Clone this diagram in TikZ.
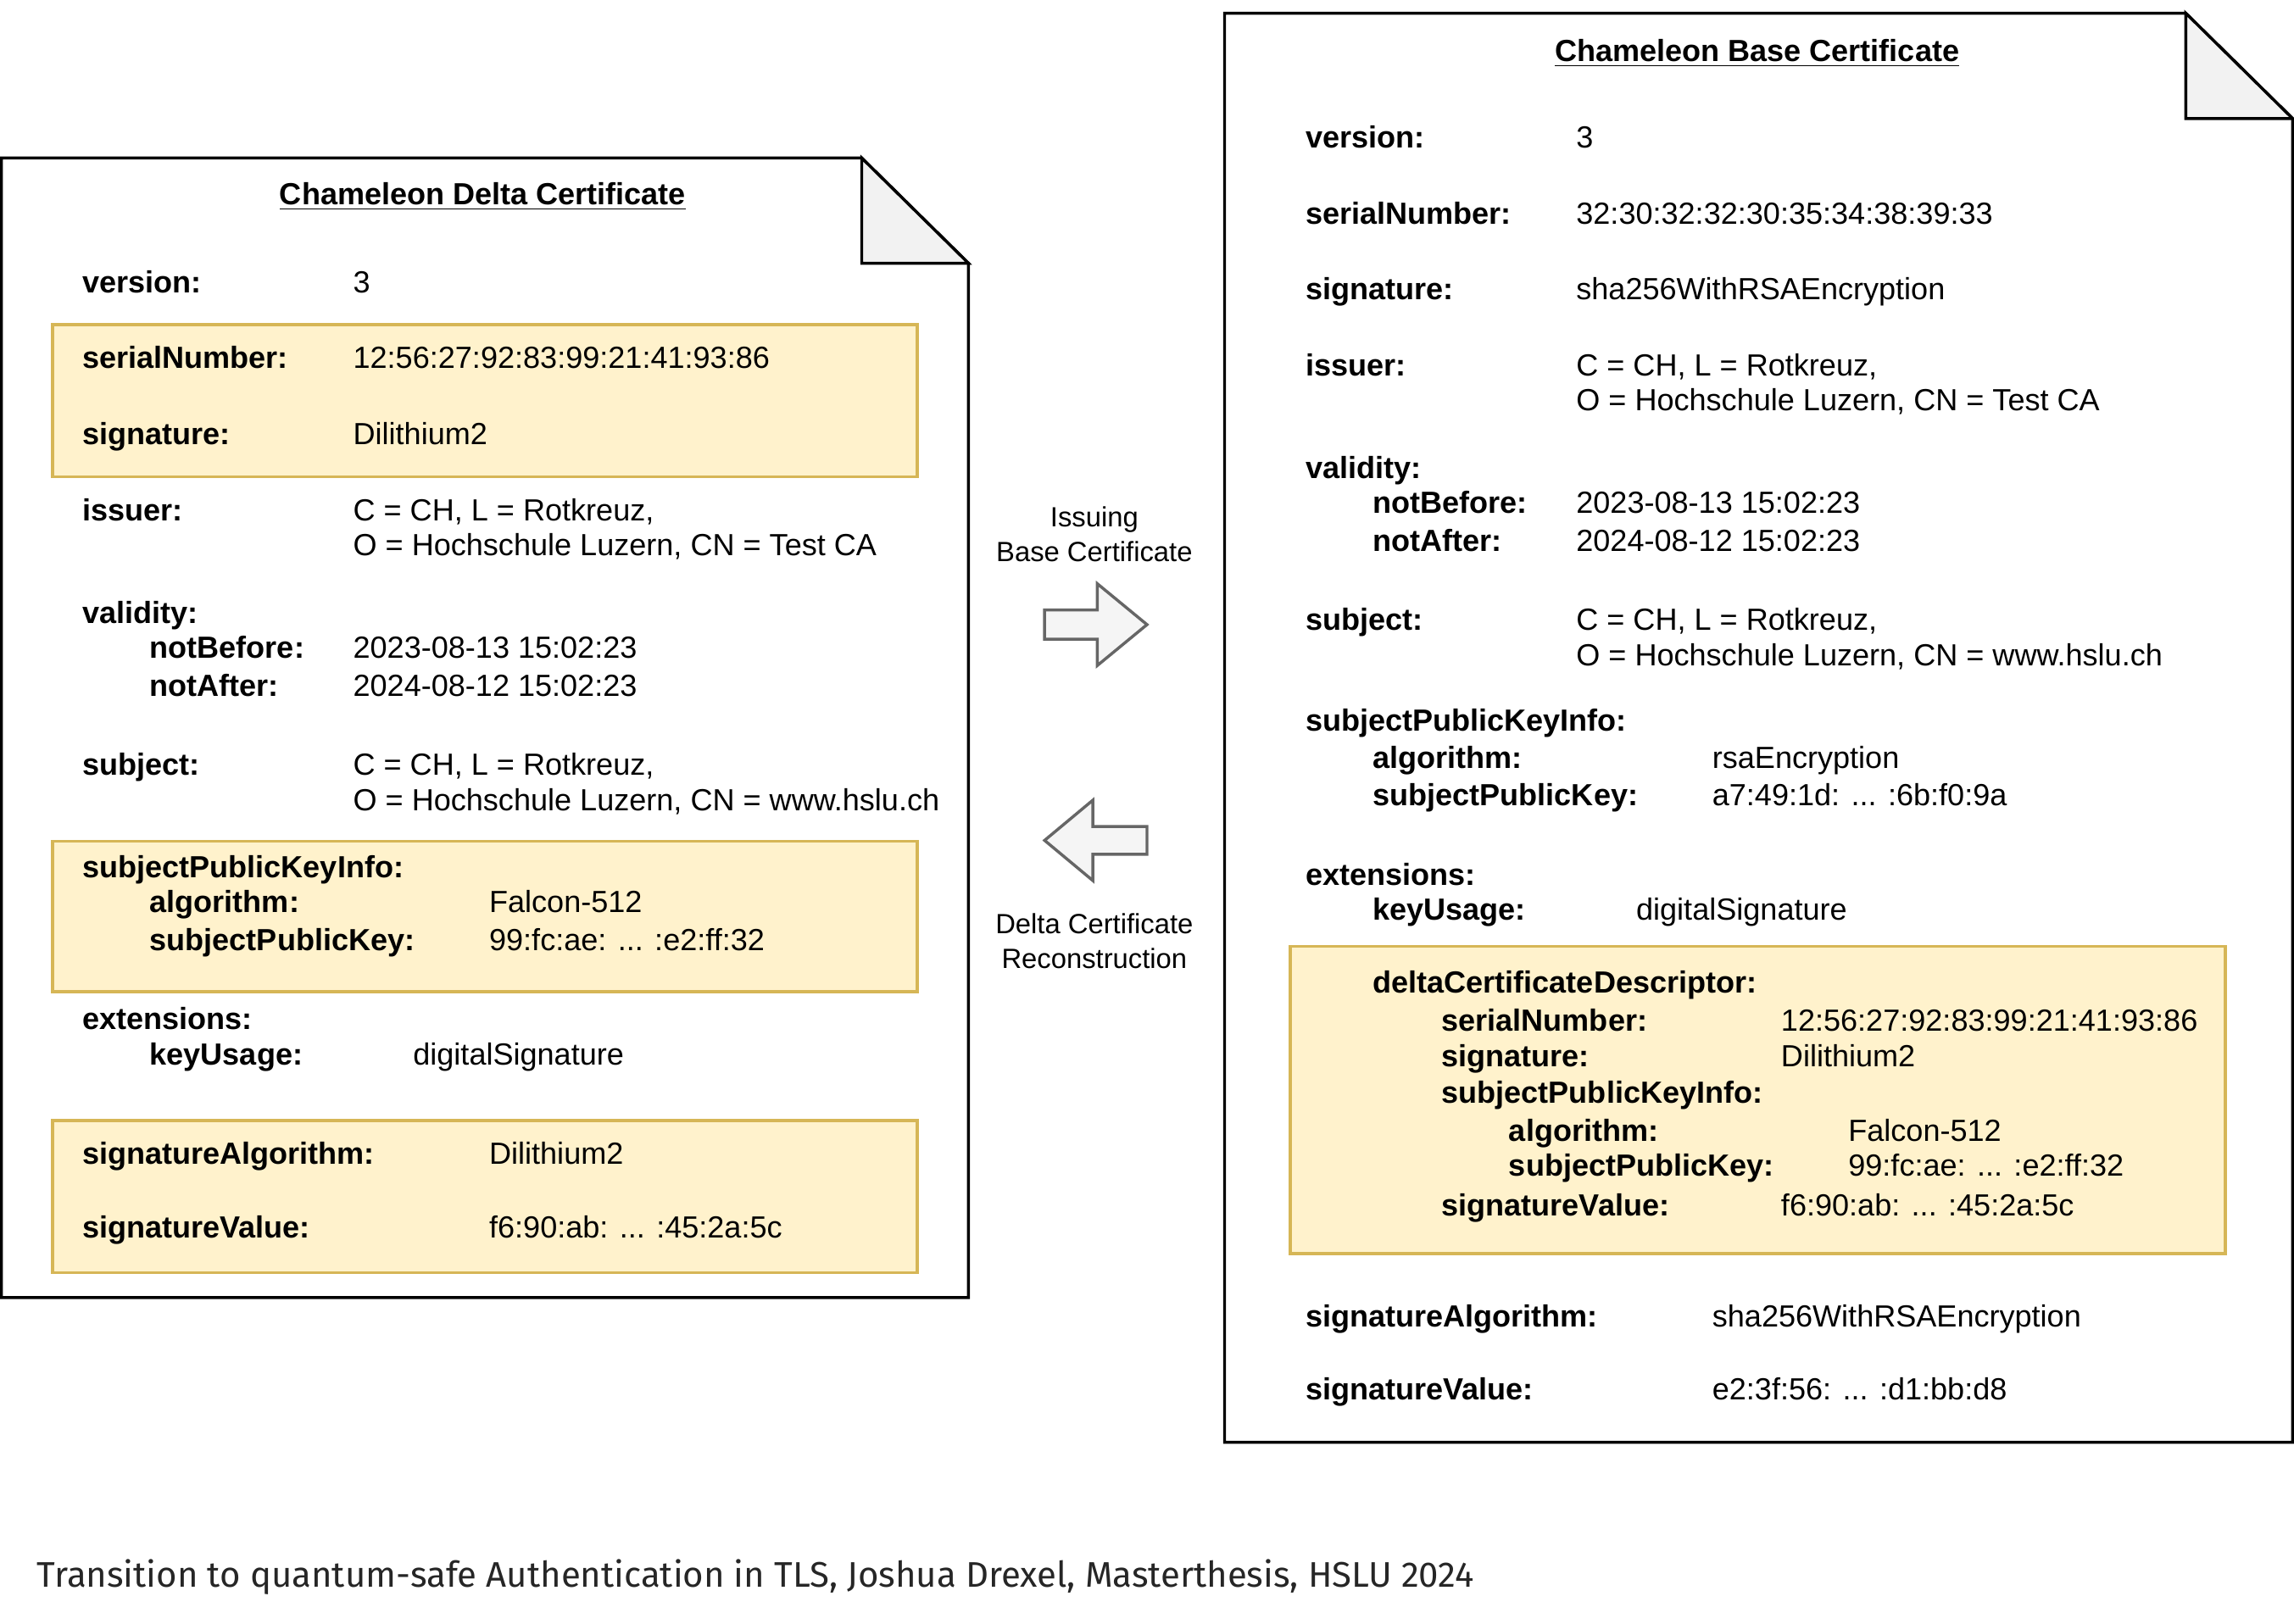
\documentclass[tikz,border=0pt]{standalone}
\usepackage{fontspec}
\setmainfont{Liberation Sans}
\newfontfamily\captionfont{Fira Sans}
\usetikzlibrary{positioning}
\definecolor{hlfill}{HTML}{FFF2CC}
\definecolor{hldraw}{HTML}{D6B656}
\definecolor{foldfill}{HTML}{F2F2F2}
\definecolor{arrowdraw}{HTML}{666666}
\definecolor{arrowfill}{HTML}{F5F5F5}
\newcommand{\certsize}{\fontsize{10.45pt}{12pt}\selectfont}
\tikzset{
    key/.style = {anchor=base west, inner sep=0pt, font=\certsize\bfseries},
    val/.style = {anchor=base west, inner sep=0pt, font=\certsize},
    doctitle/.style = {anchor=base, inner sep=0pt, font=\certsize\bfseries},
    steplabel/.style = {anchor=base, inner sep=0pt, font=\fontsize{9.5pt}{12pt}\selectfont},
    hlbox/.style = {draw=hldraw, fill=hlfill, line width=1pt},
    doc/.style = {draw, fill=white, line width=1pt, line join=miter},
    fold/.style = {draw, fill=foldfill, line width=1pt, line join=miter},
    bigarrow/.style = {draw=arrowdraw, fill=arrowfill, line width=1pt, line join=miter},
}

\begin{document}
\begin{tikzpicture}[x=0.5pt, y=-0.5pt]
    \useasboundingbox (0,0) rectangle (1568,1110);

    % delta certificate (left)
    \draw [doc] (1,108) -- (589,108) -- (662,180) -- (662,887) -- (1,887) -- cycle;
    \draw [fold] (589,108) -- (589,180) -- (662,180) -- cycle;
    \draw [hlbox] (36,222) rectangle (627,326);
    \draw [hlbox] (36,575) rectangle (627,678);
    \draw [hlbox] (36,766) rectangle (627,870);

    \node [doctitle] (dtitle) at (330,140) {\underline{Chameleon Delta Certificate}};
    \node [key] (dver) at (56,200) {version:};
    \node [val] (dverv) at (241,200) {3};
    \node [key] (dser) at (56,252) {serialNumber:};
    \node [val] (dserv) at (241,252) {12:56:27:92:83:99:21:41:93:86};
    \node [key] (dsig) at (56,304) {signature:};
    \node [val] (dsigv) at (241,304) {Dilithium2};
    \node [key] (diss) at (56,356) {issuer:};
    \node [val] (dissa) at (241,356) {C = CH, L = Rotkreuz,};
    \node [val] (dissb) at (241,380) {O = Hochschule Luzern, CN = Test CA};
    \node [key] (dval) at (56,426) {validity:};
    \node [key] (dnb) at (102,450) {notBefore:};
    \node [val] (dnbv) at (241,450) {2023-08-13 15:02:23};
    \node [key] (dna) at (102,476) {notAfter:};
    \node [val] (dnav) at (241,476) {2024-08-12 15:02:23};
    \node [key] (dsub) at (56,530) {subject:};
    \node [val] (dsuba) at (241,530) {C = CH, L = Rotkreuz,};
    \node [val] (dsubb) at (241,554) {O = Hochschule Luzern, CN = www.hslu.ch};
    \node [key] (dspki) at (56,600) {subjectPublicKeyInfo:};
    \node [key] (dalg) at (102,624) {algorithm:};
    \node [val] (dalgv) at (334,624) {Falcon-512};
    \node [key] (dspk) at (102,650) {subjectPublicKey:};
    \node [val] (dspkv) at (334,650) {99:fc:ae: ... :e2:ff:32};
    \node [key] (dext) at (56,704) {extensions:};
    \node [key] (dku) at (102,728) {keyUsage:};
    \node [val] (dkuv) at (282,728) {digitalSignature};
    \node [key] (dsa) at (56,796) {signatureAlgorithm:};
    \node [val] (dsav) at (334,796) {Dilithium2};
    \node [key] (dsv) at (56,846) {signatureValue:};
    \node [val] (dsvv) at (334,846) {f6:90:ab: ... :45:2a:5c};

    % steps between the two
    \node [steplabel] (issue) at (748,360) {Issuing};
    \node [steplabel] (issueb) at (748,384) {Base Certificate};
    \draw [bigarrow] (714,417) -- (750,417) -- (750,399) -- (784,427) -- (750,455) -- (750,437) -- (714,437) -- cycle;
    \draw [bigarrow] (784,565) -- (747,565) -- (747,547) -- (714,574.5) -- (747,602) -- (747,584) -- (784,584) -- cycle;
    \node [steplabel] (recon) at (748,638) {Delta Certificate};
    \node [steplabel] (reconb) at (748,662) {Reconstruction};

    % base certificate (right)
    \draw [doc] (837,9) -- (1494,9) -- (1567,81) -- (1567,986) -- (837,986) -- cycle;
    \draw [fold] (1494,9) -- (1494,81) -- (1567,81) -- cycle;
    \draw [hlbox] (882,647) rectangle (1521,857);

    \node [doctitle] (btitle) at (1201,42) {\underline{Chameleon Base Certificate}};
    \node [key] (bver) at (892,101) {version:};
    \node [val] (bverv) at (1077,101) {3};
    \node [key] (bser) at (892,153) {serialNumber:};
    \node [val] (bserv) at (1077,153) {32:30:32:32:30:35:34:38:39:33};
    \node [key] (bsig) at (892,205) {signature:};
    \node [val] (bsigv) at (1077,205) {sha256WithRSAEncryption};
    \node [key] (biss) at (892,257) {issuer:};
    \node [val] (bissa) at (1077,257) {C = CH, L = Rotkreuz,};
    \node [val] (bissb) at (1077,281) {O = Hochschule Luzern, CN = Test CA};
    \node [key] (bval) at (892,327) {validity:};
    \node [key] (bnb) at (938,351) {notBefore:};
    \node [val] (bnbv) at (1077,351) {2023-08-13 15:02:23};
    \node [key] (bna) at (938,377) {notAfter:};
    \node [val] (bnav) at (1077,377) {2024-08-12 15:02:23};
    \node [key] (bsub) at (892,431) {subject:};
    \node [val] (bsuba) at (1077,431) {C = CH, L = Rotkreuz,};
    \node [val] (bsubb) at (1077,455) {O = Hochschule Luzern, CN = www.hslu.ch};
    \node [key] (bspki) at (892,500) {subjectPublicKeyInfo:};
    \node [key] (balg) at (938,525) {algorithm:};
    \node [val] (balgv) at (1170,525) {rsaEncryption};
    \node [key] (bspk) at (938,551) {subjectPublicKey:};
    \node [val] (bspkv) at (1170,551) {a7:49:1d: ... :6b:f0:9a};
    \node [key] (bext) at (892,605) {extensions:};
    \node [key] (bku) at (938,629) {keyUsage:};
    \node [val] (bkuv) at (1118,629) {digitalSignature};
    \node [key] (bdcd) at (938,679) {deltaCertificateDescriptor:};
    \node [key] (bdser) at (985,705) {serialNumber:};
    \node [val] (bdserv) at (1217,705) {12:56:27:92:83:99:21:41:93:86};
    \node [key] (bdsig) at (985,729) {signature:};
    \node [val] (bdsigv) at (1217,729) {Dilithium2};
    \node [key] (bdspki) at (985,754) {subjectPublicKeyInfo:};
    \node [key] (bdalg) at (1031,780) {algorithm:};
    \node [val] (bdalgv) at (1263,780) {Falcon-512};
    \node [key] (bdspk) at (1031,804) {subjectPublicKey:};
    \node [val] (bdspkv) at (1263,804) {99:fc:ae: ... :e2:ff:32};
    \node [key] (bdsv) at (985,831) {signatureValue:};
    \node [val] (bdsvv) at (1217,831) {f6:90:ab: ... :45:2a:5c};
    \node [key] (bsa) at (892,907) {signatureAlgorithm:};
    \node [val] (bsav) at (1170,907) {sha256WithRSAEncryption};
    \node [key] (bsv) at (892,957) {signatureValue:};
    \node [val] (bsvv) at (1170,957) {e2:3f:56: ... :d1:bb:d8};

    \node [anchor=west, inner sep=0pt, text=black!85, font=\captionfont\fontsize{12.15pt}{14pt}\selectfont] (credit) at (25,1078)
        {Transition to quantum-safe Authentication in TLS, Joshua Drexel, Masterthesis, HSLU 2024};
\end{tikzpicture}
\end{document}
